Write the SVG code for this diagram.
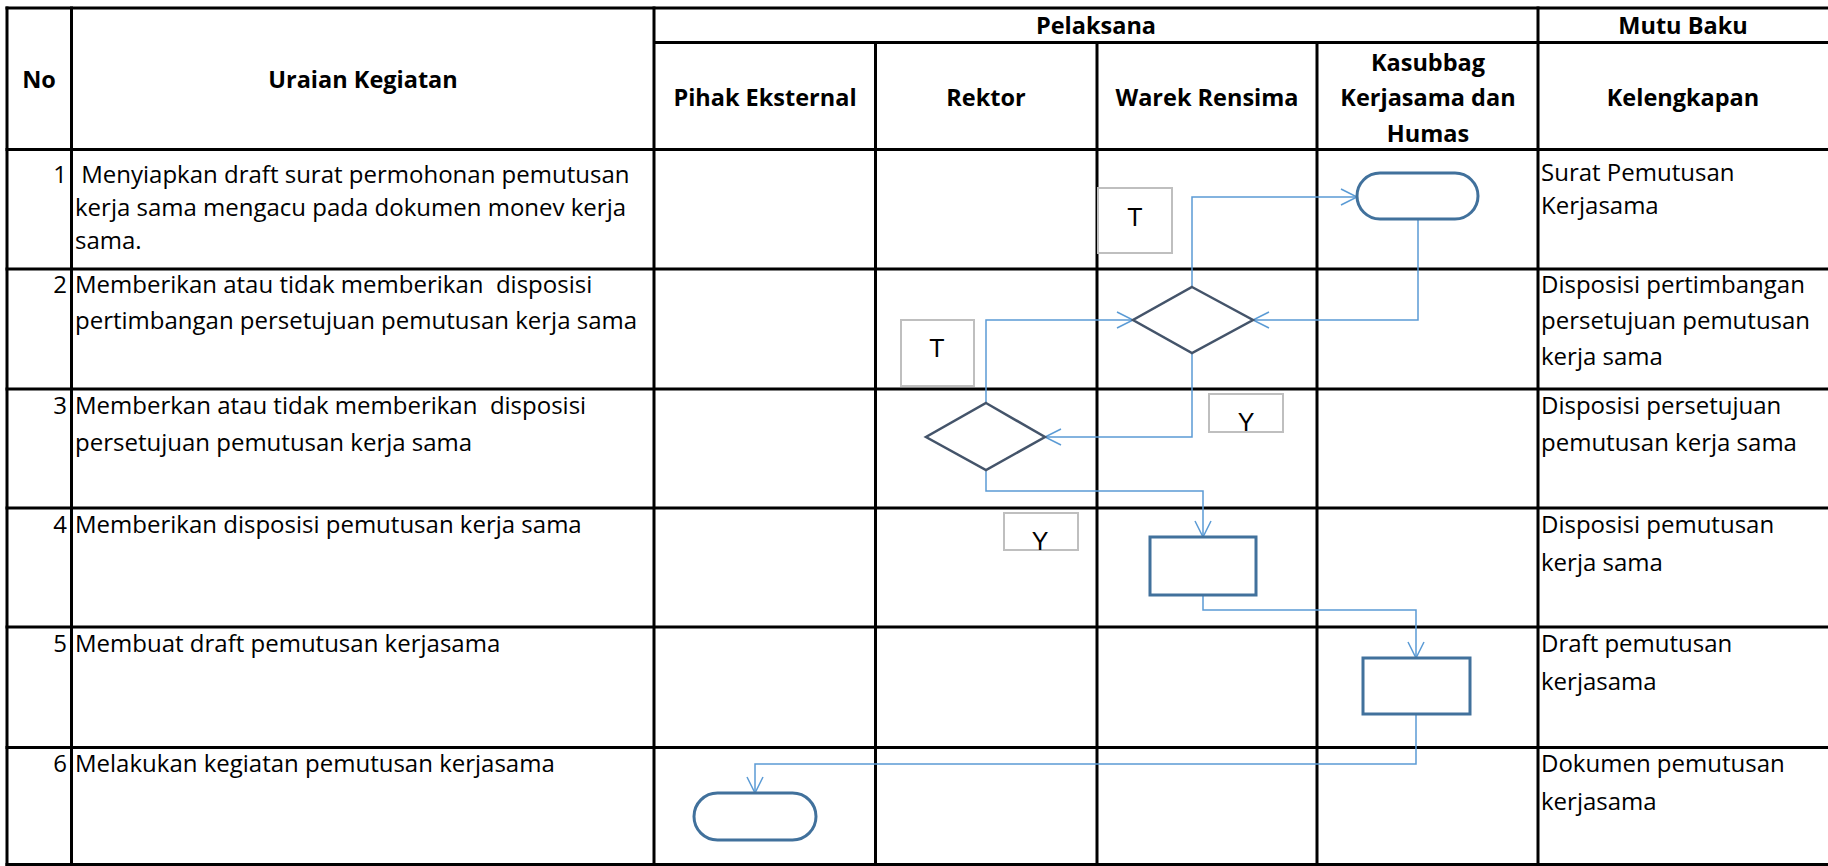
<svg xmlns="http://www.w3.org/2000/svg" width="1828" height="866" viewBox="0 0 1828 866">
  <style>
    .grid line { stroke: #000; stroke-width: 3; }
    .hd { font-family: "Open Sans", "Noto Sans", sans-serif; font-weight: bold; font-size: 23.5px; fill: #000; text-anchor: middle; }
    .tx text { font-family: "Open Sans", "Noto Sans", sans-serif; font-size: 24px; fill: #000; white-space: pre; }
    .tx .num { text-anchor: end; }
    .term { fill: #fff; stroke: #41719C; stroke-width: 3; }
    .proc { fill: #fff; stroke: #41719C; stroke-width: 3; }
    .dec { fill: #fff; stroke: #44546A; stroke-width: 2.5; }
    .lbl rect { fill: #fff; stroke: #BFBFBF; stroke-width: 2; }
    .lbl text { font-family: "Liberation Sans", Arial, sans-serif; font-size: 25px; fill: #000; text-anchor: middle; }
    .conn path { fill: none; stroke: #5B9BD5; stroke-width: 1.5; marker-end: url(#arr); }
  </style>
  <defs>
    <marker id="arr" markerUnits="userSpaceOnUse" viewBox="0 0 20 20" markerWidth="20" markerHeight="20" refX="17" refY="9" orient="auto">
      <path d="M1,1 L17,9 L1,17" fill="none" stroke="#5B9BD5" stroke-width="1.5"/>
    </marker>
  </defs>
  <rect x="0" y="0" width="1828" height="866" fill="#fff"/>

  <g id="grid" class="grid">
    <line x1="5.5" y1="8" x2="1828" y2="8"/>
    <line x1="654" y1="42.5" x2="1828" y2="42.5"/>
    <line x1="5.5" y1="149.5" x2="1828" y2="149.5"/>
    <line x1="5.5" y1="269" x2="1828" y2="269"/>
    <line x1="5.5" y1="389" x2="1828" y2="389"/>
    <line x1="5.5" y1="508" x2="1828" y2="508"/>
    <line x1="5.5" y1="627" x2="1828" y2="627"/>
    <line x1="5.5" y1="747.5" x2="1828" y2="747.5"/>
    <line x1="5.5" y1="864.5" x2="1828" y2="864.5"/>
    <line x1="7" y1="6.5" x2="7" y2="866"/>
    <line x1="71.5" y1="6.5" x2="71.5" y2="866"/>
    <line x1="654" y1="6.5" x2="654" y2="866"/>
    <line x1="875.5" y1="42.5" x2="875.5" y2="866"/>
    <line x1="1097" y1="42.5" x2="1097" y2="866"/>
    <line x1="1317" y1="42.5" x2="1317" y2="866"/>
    <line x1="1538" y1="6.5" x2="1538" y2="866"/>
  </g>

  <g id="header">
    <text class="hd" x="39" y="88">No</text>
    <text class="hd" x="363" y="88">Uraian Kegiatan</text>
    <text class="hd" x="1096" y="34">Pelaksana</text>
    <text class="hd" x="1683" y="34">Mutu Baku</text>
    <text class="hd" x="765" y="106">Pihak Eksternal</text>
    <text class="hd" x="986" y="106">Rektor</text>
    <text class="hd" x="1207" y="106">Warek Rensima</text>
    <text class="hd" x="1428" y="71">Kasubbag</text>
    <text class="hd" x="1428" y="106">Kerjasama dan</text>
    <text class="hd" x="1428" y="142">Humas</text>
    <text class="hd" x="1683" y="106">Kelengkapan</text>
  </g>

  <g id="rows" class="tx">
    <text class="num" x="67" y="183">1</text>
    <text x="75" y="183" xml:space="preserve"> Menyiapkan draft surat permohonan pemutusan</text>
    <text x="75" y="216">kerja sama mengacu pada dokumen monev kerja</text>
    <text x="75" y="249">sama.</text>
    <text class="num" x="67" y="293">2</text>
    <text x="75" y="293" xml:space="preserve">Memberikan atau tidak memberikan  disposisi</text>
    <text x="75" y="329">pertimbangan persetujuan pemutusan kerja sama</text>
    <text class="num" x="67" y="414">3</text>
    <text x="75" y="414" xml:space="preserve">Memberkan atau tidak memberikan  disposisi</text>
    <text x="75" y="451">persetujuan pemutusan kerja sama</text>
    <text class="num" x="67" y="533">4</text>
    <text x="75" y="533">Memberikan disposisi pemutusan kerja sama</text>
    <text class="num" x="67" y="652">5</text>
    <text x="75" y="652">Membuat draft pemutusan kerjasama</text>
    <text class="num" x="67" y="772">6</text>
    <text x="75" y="772">Melakukan kegiatan pemutusan kerjasama</text>

    <text x="1541" y="181">Surat Pemutusan</text>
    <text x="1541" y="214">Kerjasama</text>
    <text x="1541" y="293">Disposisi pertimbangan</text>
    <text x="1541" y="329">persetujuan pemutusan</text>
    <text x="1541" y="365">kerja sama</text>
    <text x="1541" y="414">Disposisi persetujuan</text>
    <text x="1541" y="451">pemutusan kerja sama</text>
    <text x="1541" y="533">Disposisi pemutusan</text>
    <text x="1541" y="571">kerja sama</text>
    <text x="1541" y="652">Draft pemutusan</text>
    <text x="1541" y="690">kerjasama</text>
    <text x="1541" y="772">Dokumen pemutusan</text>
    <text x="1541" y="810">kerjasama</text>
  </g>

  <g id="connectors" class="conn">
    <path d="M1192,287 V197 H1357"/>
    <path d="M1418,219 V320 H1253"/>
    <path d="M1192,353 V437 H1045"/>
    <path d="M986,403 V320 H1133"/>
    <path d="M986,470 V491 H1203 V537"/>
    <path d="M1203,595 V610 H1416 V658"/>
    <path d="M1416,714 V764 H755 V793"/>
  </g>

  <g id="start"><rect class="term" x="1357" y="173" width="121" height="46" rx="23" ry="23"/></g>
  <g id="decision-warek"><polygon class="dec" points="1192,287 1253,320 1192,353 1133,320"/></g>
  <g id="decision-rektor"><polygon class="dec" points="986,403 1045,437 986,470 926,437"/></g>
  <g id="process-warek"><rect class="proc" x="1150" y="537" width="106" height="58"/></g>
  <g id="process-kasubbag"><rect class="proc" x="1363" y="658" width="107" height="56"/></g>
  <g id="end"><rect class="term" x="694" y="793" width="122" height="47" rx="23.5" ry="23.5"/></g>

  <g id="label-t1" class="lbl"><rect x="1098" y="188" width="74" height="65"/><text x="1135" y="226">T</text></g>
  <g id="label-t2" class="lbl"><rect x="901" y="320" width="73" height="66"/><text x="937" y="357">T</text></g>
  <g id="label-y1" class="lbl"><rect x="1209" y="394" width="74" height="38"/><text x="1246" y="431">Y</text></g>
  <g id="label-y2" class="lbl"><rect x="1004" y="513" width="74" height="37"/><text x="1040" y="550">Y</text></g>
</svg>
